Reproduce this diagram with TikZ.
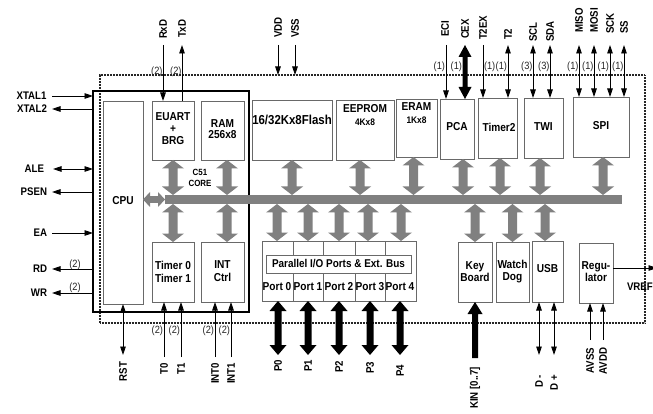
\documentclass[tikz,border=0pt]{standalone}
\usepackage{fontspec}
\setmainfont[FakeStretch=0.88]{Liberation Sans}
\usetikzlibrary{arrows.meta,calc}
\definecolor{busgray}{RGB}{128,128,128}
\definecolor{blkline}{RGB}{105,105,105}
% vertical double fat arrow: fill, xref, top point, bottom point, half shaft, half head, head length
\newcommand\fatv[7]{%
  \fill[#1] let \p3=(#2), \p1=(#3), \p2=(#4) in
  (\x3,\y1) -- (\x3+#6,\y1-#7) -- (\x3+#5,\y1-#7) -- (\x3+#5,\y2+#7) -- (\x3+#6,\y2+#7) -- (\x3,\y2)
  -- (\x3-#6,\y2+#7) -- (\x3-#5,\y2+#7) -- (\x3-#5,\y1-#7) -- (\x3-#6,\y1-#7) -- cycle;}
% vertical single fat arrow pointing up
\newcommand\fatup[7]{%
  \fill[#1] let \p3=(#2), \p1=(#3), \p2=(#4) in
  (\x3,\y1) -- (\x3+#6,\y1-#7) -- (\x3+#5,\y1-#7) -- (\x3+#5,\y2) -- (\x3-#5,\y2)
  -- (\x3-#5,\y1-#7) -- (\x3-#6,\y1-#7) -- cycle;}
% horizontal double fat arrow: fill, yref, left, right, half shaft, half head, head length
\newcommand\fath[7]{%
  \fill[#1] let \p3=(#2), \p1=(#3), \p2=(#4) in
  (\x1,\y3) -- (\x1+#7,\y3+#6) -- (\x1+#7,\y3+#5) -- (\x2-#7,\y3+#5) -- (\x2-#7,\y3+#6) -- (\x2,\y3)
  -- (\x2-#7,\y3-#6) -- (\x2-#7,\y3-#5) -- (\x1+#7,\y3-#5) -- (\x1+#7,\y3-#6) -- cycle;}
\newcommand\garr[3]{\fatv{busgray}{#1}{#2}{#3}{4.5pt}{11pt}{8.5pt}}
\newcommand\barr[3]{\fatv{black}{#1}{#2}{#3}{3.5pt}{8.5pt}{10pt}}

\begin{document}
\begin{tikzpicture}[x=1pt,y=-1pt,
  >={Triangle[length=8.5pt,width=5.5pt]},
  sig/.style={line width=0.8pt, draw=black},
  lbl/.style={font=\fontsize{11}{12}\selectfont\bfseries, inner sep=0pt, outer sep=0pt},
  num/.style={font=\fontsize{10.5}{12}\selectfont, inner sep=0pt, outer sep=0pt, text=black!85},
  blk/.style={draw=blkline, line width=0.8pt, inner sep=0pt, outer sep=0pt, anchor=north west},
  txt/.style={font=\fontsize{11.5}{12.5}\selectfont\bfseries, inner sep=0pt, outer sep=0pt, align=center},
  txtsm/.style={font=\fontsize{9.5}{11}\selectfont\bfseries, inner sep=0pt, outer sep=0pt, align=center},
  vup/.style={lbl, rotate=90, anchor=west},
  vdn/.style={lbl, rotate=90, anchor=east}]
\fill[white] (0,0) rectangle (653,414);
\useasboundingbox (0,0) rectangle (653,414);

% chip outline (dotted)
\node[blk, draw=black!85, line width=1.8pt, dash pattern=on 0.8pt off 0.7pt,
      minimum width=545pt, minimum height=248pt] (chip) at (100,75) {};
% C51 core
\node[blk, draw=black, line width=2pt, minimum width=156pt, minimum height=221pt] (core) at (93,91) {};

% blocks inside core
\node[blk, minimum width=40pt, minimum height=203pt] (cpu) at (103,101) {};
\node[blk, minimum width=42pt, minimum height=59pt] (euart) at (152,101) {};
\node[blk, minimum width=43pt, minimum height=59pt] (ram) at (201,101) {};
\node[blk, minimum width=42pt, minimum height=60pt] (tim) at (152,242) {};
\node[blk, minimum width=43pt, minimum height=60pt] (intc) at (201,242) {};
% top row
\node[blk, minimum width=80pt, minimum height=60pt] (flash) at (252,100) {};
\node[blk, minimum width=58pt, minimum height=60pt] (eeprom) at (336,100) {};
\node[blk, minimum width=41pt, minimum height=58pt] (eram) at (396,99) {};
\node[blk, minimum width=34pt, minimum height=60pt] (pca) at (440,99) {};
\node[blk, minimum width=39pt, minimum height=60pt] (timer2) at (478,98) {};
\node[blk, minimum width=39pt, minimum height=60pt] (twi) at (524,98) {};
\node[blk, minimum width=56pt, minimum height=60pt] (spi) at (573,97) {};
% bottom row
\node[blk, minimum width=154pt, minimum height=60pt] (pio) at (262,241) {};
\draw[blkline, line width=0.8pt] (293,241) -- (293,301) (323,241) -- (323,301)
  (355,241) -- (355,301) (385,241) -- (385,301);
\node[draw=blkline, line width=0.8pt, fill=white, inner sep=0pt, outer sep=0pt,
      minimum width=145pt, minimum height=18pt, font=\fontsize{11.3}{12}\selectfont\bfseries]
      (piolbl) at (338.5,264) {Parallel I/O Ports \& Ext. Bus};
\node[blk, minimum width=34pt, minimum height=60pt] (kbd) at (458,242) {};
\node[blk, minimum width=33pt, minimum height=60pt] (wdog) at (496,242) {};
\node[blk, minimum width=31pt, minimum height=61pt] (usb) at (532,241) {};
\node[blk, minimum width=34pt, minimum height=60pt] (reg) at (579,243) {};

% block texts
\node[txt] (cputxt) at (123,201) {CPU};
\node[txt, font=\fontsize{11.5}{12}\selectfont\bfseries] (euarttxt) at (173,129) {EUART\\+\\BRG};
\node[txt, font=\fontsize{11.5}{11.5}\selectfont\bfseries] (ramtxt) at (222.5,129) {RAM\\256x8};
\node[txt, font=\fontsize{9}{11}\selectfont\bfseries] (coretxt) at (200,178) {C51\\CORE};
\node[txt, font=\fontsize{11.5}{13}\selectfont\bfseries] (timtxt) at (173,271.5) {Timer 0\\Timer 1};
\node[txt, font=\fontsize{11.5}{13}\selectfont\bfseries] (inttxt) at (222.5,271.5) {INT\\Ctrl};
\node[txt, font=\fontsize{13}{14}\selectfont\bfseries] (flashtxt) at (292,120) {16/32Kx8Flash};
\node[txt] (eeptxt) at (365,109) {EEPROM};
\node[txtsm] (eepsz) at (365,122) {4Kx8};
\node[txt] (eramtxt) at (416.5,107) {ERAM};
\node[txtsm] (eramsz) at (416.5,120) {1Kx8};
\node[txt] (pcatxt) at (457,127) {PCA};
\node[txt] (t2txt) at (499,127) {Timer2};
\node[txt] (twitxt) at (543.5,127) {TWI};
\node[txt] (spitxt) at (601,126) {SPI};
\node[txt] (port0) at (277,287) {Port 0};
\node[txt] (port1) at (308,287) {Port 1};
\node[txt] (port2) at (339,287) {Port 2};
\node[txt] (port3) at (370,287) {Port 3};
\node[txt] (port4) at (400,287) {Port 4};
\node[txt] (kbdtxt) at (475,271.5) {Key\\Board};
\node[txt] (wdtxt) at (512.5,271.5) {Watch\\Dog};
\node[txt] (usbtxt) at (547.5,269) {USB};
\node[txt] (regtxt) at (596,271.5) {Regu-\\lator};

% internal bus
\node[fill=busgray, inner sep=0pt, outer sep=0pt, anchor=north west,
      minimum width=457pt, minimum height=9pt] (bus) at (165,195) {};
\fath{busgray}{bus.west}{cpu.east}{bus.west}{3.3pt}{7.5pt}{7pt}
\garr{euart.south}{euart.south}{bus.north}
\garr{[xshift=4.5pt]ram.south}{ram.south}{bus.north}
\garr{flash.south}{flash.south}{bus.north}
\garr{[xshift=-5pt]eeprom.south}{eeprom.south}{bus.north}
\garr{[xshift=-3pt]eram.south}{eram.south}{bus.north}
\garr{[xshift=6pt]pca.south}{pca.south}{bus.north}
\garr{[xshift=2.5pt]timer2.south}{timer2.south}{bus.north}
\garr{[xshift=-3.5pt]twi.south}{twi.south}{bus.north}
\garr{[xshift=2pt]spi.south}{spi.south}{bus.north}
\garr{tim.north}{bus.south}{tim.north}
\garr{[xshift=4.5pt]intc.north}{bus.south}{intc.north}
\garr{port0}{bus.south}{pio.north}
\garr{port1}{bus.south}{pio.north}
\garr{port2}{bus.south}{pio.north}
\garr{[xshift=-2pt]port3}{bus.south}{pio.north}
\garr{[xshift=1pt]port4}{bus.south}{pio.north}
\garr{kbd.north}{bus.south}{kbd.north}
\garr{wdog.north}{bus.south}{wdog.north}
\garr{[xshift=-2.5pt]usb.north}{bus.south}{usb.north}

% ---------- pins: top ----------
\coordinate (rxdE) at (163,45);  \draw[sig,->] (rxdE) -- (rxdE |- euart.north);
\coordinate (txdE) at (182,45);  \draw[sig,->] (txdE |- euart.north) -- (txdE);
\coordinate (vddE) at (278,45);  \draw[sig,->] (vddE) -- (vddE |- chip.north);
\coordinate (vssE) at (295,45);  \draw[sig,->] (vssE) -- (vssE |- chip.north);
\coordinate (eciE) at (446,45);  \draw[sig,->] (eciE) -- (eciE |- pca.north);
\coordinate (cexE) at (465,45);  \fatv{black}{cexE}{cexE}{pca.north}{2.5pt}{6.5pt}{12pt}
\coordinate (t2exE) at (483,45); \draw[sig,->] (t2exE) -- (t2exE |- timer2.north);
\coordinate (t2E) at (508,45);   \draw[sig,<->] (t2E) -- (t2E |- timer2.north);
\coordinate (sclE) at (533,45);  \draw[sig,<->] (sclE) -- (sclE |- twi.north);
\coordinate (sdaE) at (550,45);  \draw[sig,<->] (sdaE) -- (sdaE |- twi.north);
\coordinate (misoE) at (579,45); \draw[sig,<->] (misoE) -- (misoE |- spi.north);
\coordinate (mosiE) at (594,45); \draw[sig,<->] (mosiE) -- (mosiE |- spi.north);
\coordinate (sckE) at (610,45);  \draw[sig,<->] (sckE) -- (sckE |- spi.north);
\coordinate (ssE) at (624,45);   \draw[sig,<->] (ssE) -- (ssE |- spi.north);

\node[vup] (rxd) at (163,39) {RxD};
\node[vup] (txd) at (182,38) {TxD};
\node[vup] (vdd) at (278,38) {VDD};
\node[vup] (vss) at (295,38) {VSS};
\node[vup] (eci) at (445,37) {ECI};
\node[vup] (cex) at (465,39) {CEX};
\node[vup] (t2ex) at (483,40) {T2EX};
\node[vup] (t2) at (508,40) {T2};
\node[vup] (scl) at (533,42) {SCL};
\node[vup] (sda) at (550,42) {SDA};
\node[vup] (miso) at (579,33) {MISO};
\node[vup] (mosi) at (594,33) {MOSI};
\node[vup] (sck) at (610,34) {SCK};
\node[vup] (ss) at (624,34) {SS};

\node[num, anchor=east] (nrxd) at (162.5,72) {(2)};
\node[num, anchor=east] (ntxd) at (181.5,72) {(2)};
\node[num, anchor=east] (neci) at (445,67) {(1)};
\node[num, anchor=east] (ncex) at (462,67) {(1)};
\node[num, anchor=west] (nt2ex) at (484,67) {(1)};
\node[num, anchor=east] (nt2) at (507,67) {(1)};
\node[num, anchor=east] (nscl) at (532.5,67) {(3)};
\node[num, anchor=east] (nsda) at (549.5,67) {(3)};
\node[num, anchor=east] (nmiso) at (578.5,67) {(1)};
\node[num, anchor=east] (nmosi) at (593.5,67) {(1)};
\node[num, anchor=east] (nsck) at (609,67) {(1)};
\node[num, anchor=east] (nss) at (623.5,67) {(1)};

% ---------- pins: left ----------
\coordinate (xt1E) at (52,96);   \draw[sig,->] (xt1E) -- (xt1E -| core.west);
\coordinate (xt2E) at (52,109);  \draw[sig,->] (xt2E -| core.west) -- (xt2E);
\coordinate (aleE) at (53,169);  \draw[sig,<->] (aleE) -- (aleE -| core.west);
\coordinate (psenE) at (52,192); \draw[sig,->] (psenE -| core.west) -- (psenE);
\coordinate (eaE) at (52,233);   \draw[sig,->] (eaE) -- (eaE -| core.west);
\coordinate (rdE) at (52,269);   \draw[sig,->] (rdE -| core.west) -- (rdE);
\coordinate (wrE) at (52,293);   \draw[sig,->] (wrE -| core.west) -- (wrE);

\node[lbl, anchor=east] (xtal1) at (46.5,96) {XTAL1};
\node[lbl, anchor=east] (xtal2) at (47,109) {XTAL2};
\node[lbl, anchor=east] (ale) at (44,169) {ALE};
\node[lbl, anchor=east] (psen) at (47,192) {PSEN};
\node[lbl, anchor=east] (ea) at (47,233) {EA};
\node[lbl, anchor=east] (rd) at (47,269) {RD};
\node[lbl, anchor=east] (wr) at (47,293) {WR};
\node[num] (nrd) at (75,264.5) {(2)};
\node[num] (nwr) at (75,287.5) {(2)};

% ---------- pins: bottom ----------
\coordinate (rstE) at (123,355);   \draw[sig,<->] (rstE |- cpu.south) -- (rstE);
\coordinate (t0E) at (164,357);    \draw[sig,->] (t0E) -- (t0E |- tim.south);
\coordinate (t1E) at (181,357);    \draw[sig,->] (t1E) -- (t1E |- tim.south);
\coordinate (int0E) at (215,357);  \draw[sig,->] (int0E) -- (int0E |- intc.south);
\coordinate (int1E) at (231,357);  \draw[sig,->] (int1E) -- (int1E |- intc.south);
\coordinate (p0E) at (278,355); \barr{p0E}{pio.south}{p0E}
\coordinate (p1E) at (308,355); \barr{p1E}{pio.south}{p1E}
\coordinate (p2E) at (339,355); \barr{p2E}{pio.south}{p2E}
\coordinate (p3E) at (370,355); \barr{p3E}{pio.south}{p3E}
\coordinate (p4E) at (400,355); \barr{p4E}{pio.south}{p4E}
\coordinate (kinE) at (475,358); \fatup{black}{kinE}{kbd.south}{kinE}{3pt}{7.5pt}{12pt}
\coordinate (dmE) at (539,355);  \draw[sig,<->] (dmE |- usb.south) -- (dmE);
\coordinate (dpE) at (554,355);  \draw[sig,<->] (dpE |- usb.south) -- (dpE);
\coordinate (avssE) at (590,340); \draw[sig,->] (avssE) -- (avssE |- reg.south);
\coordinate (avddE) at (603,340); \draw[sig,->] (avddE) -- (avddE |- reg.south);
\coordinate (vrefE) at (657,268); \draw[sig,->] (reg.east |- vrefE) -- (vrefE);

\node[vdn] (rst) at (123,362) {RST};
\node[vdn] (t0) at (164,363) {T0};
\node[vdn] (t1) at (181,363) {T1};
\node[vdn] (int0) at (215,363) {INT0};
\node[vdn] (int1) at (231,363) {INT1};
\node[vdn] (p0) at (278,360) {P0};
\node[vdn] (p1) at (308,360) {P1};
\node[vdn] (p2) at (339,361) {P2};
\node[vdn] (p3) at (370,362) {P3};
\node[vdn] (p4) at (400,365) {P4};
\node[vdn] (kin) at (475,367) {KIN [0..7]};
\node[vdn] (dm) at (539,375) {D -};
\node[vdn] (dp) at (554,375) {D +};
\node[vdn] (avss) at (590,348) {AVSS};
\node[vdn] (avdd) at (603,348) {AVDD};
\node[lbl, anchor=west] (vref) at (627,287) {VREF};

\node[num, anchor=east] (nt0) at (163,331) {(2)};
\node[num, anchor=east] (nt1) at (180,331) {(2)};
\node[num, anchor=east] (nint0) at (214,331) {(2)};
\node[num, anchor=east] (nint1) at (230,331) {(2)};
\end{tikzpicture}
\end{document}
